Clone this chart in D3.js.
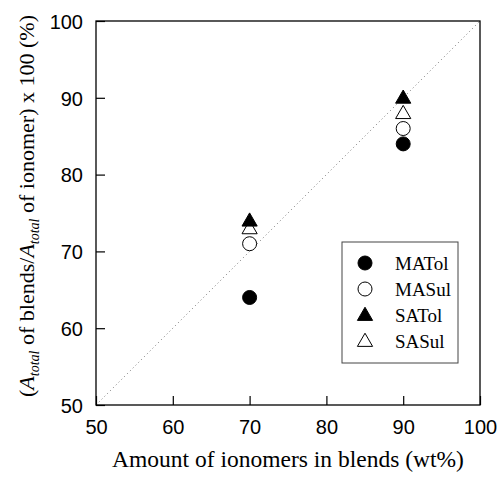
<!DOCTYPE html>
<html>
<head>
<meta charset="utf-8">
<script src="https://cdn.jsdelivr.net/npm/d3@7"></script>
<style>
  body { margin: 0; background: #fff; }
  svg { display: block; }
</style>
</head>
<body>
<div id="chart"></div>
<script>
var xTicks = [50, 60, 70, 80, 90, 100]
var yTicks = [50, 60, 70, 80, 90, 100]

var maTol = [[70, 64], [90, 84]]
var maSul = [[70, 71], [90, 86]]
var saTol = [[70, 74], [90, 90]]
var saSul = [[70, 73], [90, 88]]

var series = [
  {name: 'MATol', data: maTol, shape: 'circle', filled: true},
  {name: 'MASul', data: maSul, shape: 'circle', filled: false},
  {name: 'SATol', data: saTol, shape: 'triangle', filled: true},
  {name: 'SASul', data: saSul, shape: 'triangle', filled: false},
]

var width = 500, height = 477
var margin = {left: 96, top: 21, right: 20, bottom: 72}

var svg = d3.select('#chart').append('svg')
  .attr('width', width).attr('height', height)

var x = d3.scaleLinear().domain([50, 100]).range([margin.left, width - margin.right])
var y = d3.scaleLinear().domain([50, 100]).range([height - margin.bottom, margin.top])

var serif = '"Liberation Serif", "Times New Roman", serif'
var sans = '"Liberation Sans", Arial, sans-serif'

// frame
svg.append('rect')
  .attr('x', x(50)).attr('y', y(100))
  .attr('width', x(100) - x(50)).attr('height', y(50) - y(100))
  .attr('fill', 'none').attr('stroke', '#000').attr('stroke-width', 1.3)

// diagonal
svg.append('line')
  .attr('x1', x(50)).attr('y1', y(50))
  .attr('x2', x(100)).attr('y2', y(100))
  .attr('stroke', '#777').attr('stroke-width', 1)
  .attr('stroke-dasharray', '1,3')

// axes with inward ticks
var xAxis = svg.append('g')
  .attr('transform', `translate(0,${y(50)})`)
  .call(d3.axisBottom(x).tickValues(xTicks).tickSizeInner(-9).tickSizeOuter(0).tickPadding(15))
var yAxis = svg.append('g')
  .attr('transform', `translate(${x(50)},0)`)
  .call(d3.axisLeft(y).tickValues(yTicks).tickSizeInner(-9).tickSizeOuter(0).tickPadding(13))

;[xAxis, yAxis].forEach(a => {
  a.select('.domain').remove()
  a.selectAll('line').attr('stroke', '#000').attr('stroke-width', 1.2)
  a.selectAll('text')
    .attr('font-family', sans)
    .attr('font-size', 20).attr('fill', '#000')
})
yAxis.selectAll('text').attr('dy', '0.36em')

var triangle = d3.symbol().type(d3.symbolTriangle).size(100)

function drawMark(sel, s){
  if (s.shape == 'circle'){
    sel.append('circle').attr('r', 7)
      .attr('fill', s.filled ? '#000' : '#fff')
      .attr('stroke', '#000').attr('stroke-width', 1)
  } else {
    sel.append('path').attr('d', triangle)
      .attr('transform', 'translate(0,1)')
      .attr('fill', s.filled ? '#000' : '#fff')
      .attr('stroke', '#000').attr('stroke-width', 1)
  }
}

// points: filled circle, open circle, open triangle, filled triangle on top
var order = [series[0], series[1], series[3], series[2]]
order.forEach(s => {
  s.data.forEach(d => {
    var g = svg.append('g').attr('transform', `translate(${x(d[0])},${y(d[1])})`)
    drawMark(g, s)
  })
})

// legend
var lg = svg.append('g').attr('transform', 'translate(342,242)')
lg.append('rect').attr('width', 116).attr('height', 121)
  .attr('fill', '#fff').attr('stroke', '#444').attr('stroke-width', 1)
series.forEach((s, i) => {
  var row = lg.append('g').attr('transform', `translate(23,${21 + i * 26})`)
  drawMark(row, s)
  row.append('text').text(s.name)
    .attr('x', 30).attr('dy', '0.35em')
    .attr('font-family', serif)
    .attr('font-size', 19)
})

// axis titles
svg.append('text')
  .attr('x', x(75)).attr('y', 467)
  .attr('text-anchor', 'middle')
  .attr('font-family', serif)
  .attr('font-size', 23.5)
  .text('Amount of ionomers in blends (wt%)')

var yt = svg.append('text')
  .attr('transform', `translate(34,206) rotate(-90)`)
  .attr('text-anchor', 'middle')
  .attr('font-family', serif)
  .attr('font-size', 22)
yt.append('tspan').text('(')
yt.append('tspan').text('A').attr('font-style', 'italic')
yt.append('tspan').text('total').attr('font-style', 'italic').attr('font-size', 14).attr('dy', 5)
yt.append('tspan').text(' of blends/').attr('dy', -5)
yt.append('tspan').text('A').attr('font-style', 'italic')
yt.append('tspan').text('total').attr('font-style', 'italic').attr('font-size', 14).attr('dy', 5)
yt.append('tspan').text(' of ionomer) x 100 (%)').attr('dy', -5)
</script>
</body>
</html>
